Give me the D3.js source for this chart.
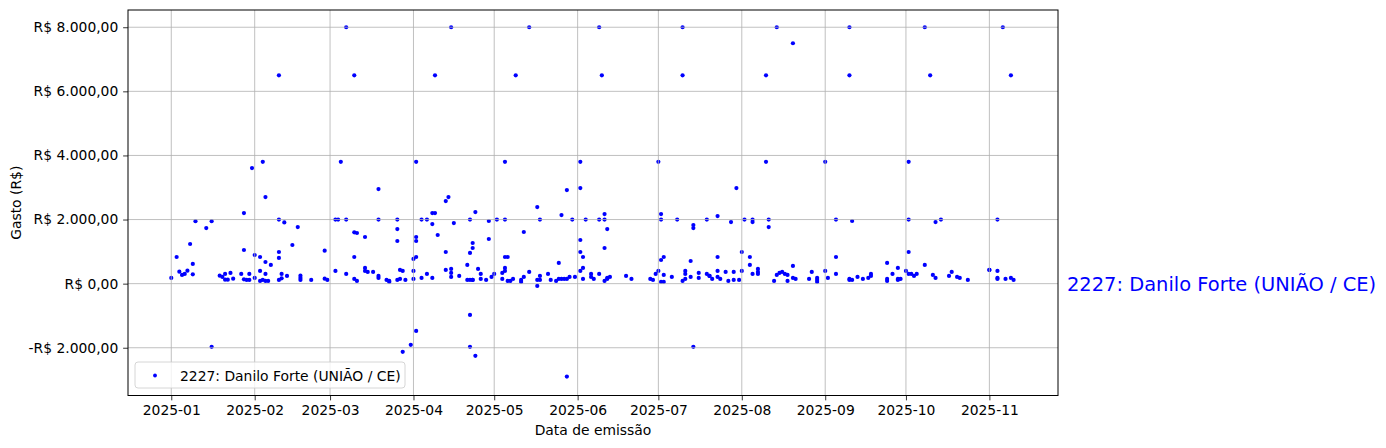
<!DOCTYPE html>
<html><head><meta charset="utf-8">
<script src="https://cdn.jsdelivr.net/npm/d3@7"></script>
<style>body{margin:0;background:#fff} svg{display:block} text{font-family:"DejaVu Sans",sans-serif}</style>
</head><body><svg id="c" width="1386" height="448"></svg>
<script>
const seriesLabel = "2227: Danilo Forte (UNIÃO / CE)";
const xLabel = "Data de emissão";
const yLabel = "Gasto (R$)";
const xTickLabels = ["2025-01","2025-02","2025-03","2025-04","2025-05","2025-06","2025-07","2025-08","2025-09","2025-10","2025-11"];
const yTicks = [-2000, 0, 2000, 4000, 6000, 8000];
const dates = [
"01-01","01-03","01-04","01-05","01-06","01-07","01-08","01-09","01-09","01-10","01-14","01-16","01-16","01-19","01-20","01-21","01-21","01-22","01-23","01-24","01-27","01-28","01-28","01-28","01-29","01-30","01-30","01-31","02-01","02-01",
"02-03","02-03","02-03","02-04","02-04","02-05","02-05","02-05","02-05","02-06","02-07","02-10","02-10","02-10","02-10","02-10","02-11","02-11","02-12","02-13","02-15","02-17","02-18","02-18","02-18","02-22","02-27","02-27","02-28",
"03-03","03-03","03-04","03-05","03-07","03-07","03-07","03-10","03-10","03-10","03-10","03-11","03-11","03-14","03-14","03-14","03-15","03-17","03-19","03-19","03-19","03-19","03-22","03-23","03-23","03-26","03-26","03-26","03-26","03-27","03-27","03-28","03-28","03-29","03-31","04-01","04-01","04-01","04-02","04-02","04-02","04-02","04-02",
"04-04","04-04","04-06","04-06","04-08","04-08","04-08","04-09","04-09","04-10","04-13","04-13","04-13","04-14","04-15","04-15","04-15","04-15","04-16","04-18","04-21","04-21","04-22","04-22","04-22","04-22","04-22","04-23","04-23","04-23","04-23","04-24","04-24","04-25","04-26","04-26","04-28","04-29","04-29","04-30","05-01",
"05-02","05-04","05-04","05-05","05-05","05-05","05-05","05-05","05-06","05-06","05-07","05-08","05-09","05-11","05-11","05-12","05-12","05-14","05-14","05-17","05-17","05-17","05-18","05-18","05-18","05-21","05-22","05-24","05-25","05-25","05-26","05-26","05-27","05-28","05-28","05-28","05-29","05-30","05-31",
"06-02","06-02","06-02","06-02","06-02","06-03","06-03","06-03","06-04","06-06","06-06","06-07","06-09","06-09","06-09","06-10","06-11","06-11","06-11","06-11","06-12","06-12","06-12","06-13","06-19","06-21","06-28","06-29","06-30",
"07-01","07-01","07-02","07-02","07-02","07-02","07-03","07-03","07-03","07-06","07-08","07-10","07-10","07-10","07-11","07-11","07-11","07-13","07-13","07-14","07-14","07-14","07-16","07-16","07-19","07-19","07-20","07-20","07-21","07-23","07-23","07-23","07-23","07-24","07-26","07-27","07-28","07-29","07-29","07-30","07-31","08-01","08-01",
"08-02","08-04","08-04","08-05","08-05","08-05","08-07","08-07","08-07","08-10","08-10","08-11","08-11","08-13","08-14","08-14","08-15","08-16","08-17","08-18","08-18","08-20","08-20","08-20","08-21","08-26","08-27","08-29","08-29","08-29","09-01","09-01",
"09-02","09-05","09-05","09-05","09-10","09-10","09-10","09-10","09-11","09-11","09-13","09-15","09-17","09-18","09-18","09-24","09-24","09-24","09-26","09-28","09-28","09-28","09-29","10-01",
"10-02","10-02","10-02","10-02","10-03","10-04","10-05","10-08","10-08","10-10","10-11","10-12","10-12","10-14","10-17","10-18","10-20","10-21","10-24","11-01","11-01","11-04","11-04","11-04","11-04","11-06","11-07","11-09","11-09","11-10"
];
const values = [
177,832,374,271,302,405,1237,614,290,1950,1735,1950,-1970,249,209,302,125,125,333,156,302,2203,1050,134,115,302,115,3605,894,177,
832,396,84,3800,115,2700,84,302,676,84,583,6500,988,801,2000,115,165,302,1910,240,1206,1766,249,177,115,115,1028,156,115,
2000,396,2000,3800,8000,2000,302,6500,832,1600,146,1580,84,1455,489,396,365,365,2951,177,240,2000,115,84,53,115,2000,1704,1330,146,427,396,-2128,115,-1910,770,396,146,832,3800,1455,1330,-1474,
2000,177,2000,302,2203,177,1860,2203,6500,1517,2577,988,427,2700,8000,458,333,209,1891,240,583,115,2000,957,115,-975,-1972,1112,1268,115,115,2234,-2253,458,302,146,115,1954,1393,209,302,
2000,333,146,2000,396,832,3800,489,84,832,84,146,6500,53,115,209,1611,365,8000,115,-72,2390,2000,240,115,302,115,84,146,645,2140,146,146,146,-2898,2920,209,2000,209,
3800,2982,1361,988,396,832,489,146,2000,302,209,146,8000,2000,302,6500,2000,84,2172,1112,146,1704,177,209,240,146,146,115,302,
396,3800,2000,738,2172,53,832,271,53,209,2000,8000,6500,84,146,302,396,707,209,1735,1829,-1972,333,177,2000,302,240,240,146,832,2109,396,209,146,365,84,1922,115,365,2982,115,988,396,
2000,832,583,302,2000,1922,365,458,302,6500,3800,2000,1766,84,8000,271,333,365,302,271,84,7500,552,177,146,146,365,177,53,115,396,3800,
177,2000,832,302,8000,6500,115,146,115,1954,209,146,177,240,302,645,146,84,302,146,115,489,146,396,
3800,988,302,2000,302,240,302,8000,583,6500,271,1922,177,2000,240,365,209,177,115,427,427,2000,396,146,177,8000,146,6500,177,115
];

const W = 1386, H = 448;
const L = 128, R = 1058, T = 10, B = 395.5;
const color = "#0000ff";
const fs = 13.89;

const svg = d3.select("#c");
const day = 864e5;
const jan1 = Date.UTC(2025, 0, 1);
const x = d3.scaleUtc()
  .domain([new Date(jan1 - 16.08 * day), new Date(jan1 + 329.5 * day)])
  .range([L, R]);
const y = d3.scaleLinear().domain([-3490, 8538]).range([B, T]);

const points = dates.map((d, i) => ({ date: new Date("2025-" + d + "T00:00:00Z"), v: values[i] }));
const monthTicks = xTickLabels.map(s => new Date(s + "-01T00:00:00Z"));

const locale = d3.formatLocale({ decimal: ",", thousands: ".", grouping: [3], currency: ["R$ ", ""], minus: "-" });
const fmt = locale.format("$,.2f");

// points
svg.append("g").selectAll("circle").data(points).join("circle")
  .attr("cx", d => x(d.date)).attr("cy", d => y(d.v)).attr("r", 2.1)
  .attr("fill", color);

// grid (drawn above points, like matplotlib default)
const grid = svg.append("g").attr("stroke", "#b0b0b0").attr("stroke-width", 0.8);
grid.selectAll("line.gx").data(monthTicks).join("line")
  .attr("x1", d => x(d)).attr("x2", d => x(d)).attr("y1", T).attr("y2", B);
grid.selectAll("line.gy").data(yTicks).join("line")
  .attr("y1", d => y(d)).attr("y2", d => y(d)).attr("x1", L).attr("x2", R);

// axes
const xAxis = d3.axisBottom(x).tickValues(monthTicks).tickFormat((d, i) => xTickLabels[i])
  .tickSize(4.86).tickPadding(4.86);
const gx = svg.append("g").attr("transform", `translate(0,${B})`).call(xAxis);
const yAxis = d3.axisLeft(y).tickValues(yTicks).tickFormat(fmt).tickSize(4.86).tickPadding(4.86);
const gy = svg.append("g").attr("transform", `translate(${L},0)`).call(yAxis);
[gx, gy].forEach(g => {
  g.select(".domain").remove();
  g.selectAll("line").attr("stroke", "#000").attr("stroke-width", 0.8);
  g.selectAll("text").attr("font-size", fs).attr("font-family", "DejaVu Sans").attr("fill", "#000");
});

// spines
svg.append("rect").attr("x", L).attr("y", T).attr("width", R - L).attr("height", B - T)
  .attr("fill", "none").attr("stroke", "#000").attr("stroke-width", 1);

// axis labels
svg.append("text").attr("x", (L + R) / 2).attr("y", 435).attr("text-anchor", "middle")
  .attr("font-size", fs).text(xLabel);
svg.append("text").attr("transform", `translate(21,${(T + B) / 2}) rotate(-90)`).attr("text-anchor", "middle")
  .attr("font-size", fs).text(yLabel);

// legend
const lg = svg.append("g");
lg.append("rect").attr("x", 135).attr("y", 362).attr("width", 270).attr("height", 26).attr("rx", 3)
  .attr("fill", "#fff").attr("fill-opacity", 0.8).attr("stroke", "#cccccc").attr("stroke-width", 0.8);
lg.append("circle").attr("cx", 155).attr("cy", 375.5).attr("r", 1.9).attr("fill", color);
lg.append("text").attr("x", 180).attr("y", 380.5).attr("font-size", fs).text(seriesLabel);

// right-side label
svg.append("text").attr("x", 1067).attr("y", 290.5).attr("font-size", 19.44).attr("fill", color).text(seriesLabel);
</script></body></html>
